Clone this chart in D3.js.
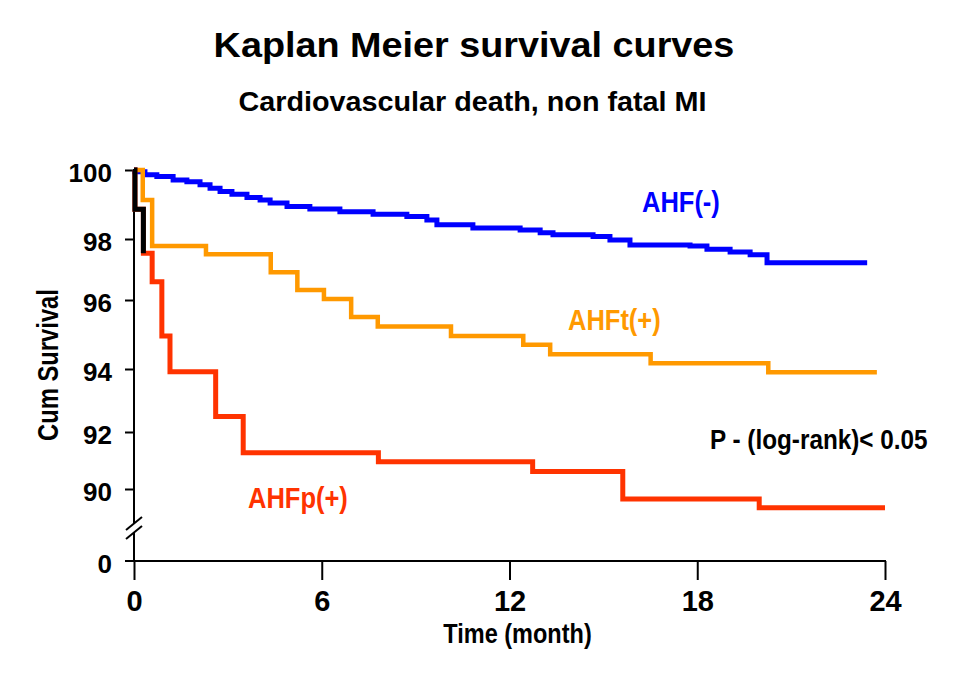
<!DOCTYPE html>
<html>
<head>
<meta charset="utf-8">
<script src="https://cdn.jsdelivr.net/npm/d3@7/dist/d3.min.js"></script>
<style>
  html, body { margin: 0; padding: 0; background: #fff; }
  svg { display: block; font-family: "Liberation Sans", Arial, sans-serif; font-weight: bold; }
</style>
</head>
<body>
<div id="chart"></div>
<script>
const xTicks = [0, 6, 12, 18, 24];
const yTicks = [90, 92, 94, 96, 98, 100];

// AHF(-)
const ahfNegTime = [0, 0.03, 0.35, 0.73, 1.25, 1.69, 2.11, 2.43, 2.75, 3.13, 3.61, 4.03, 4.35, 4.89,
  5.62, 6.58, 7.64, 8.72, 9.36, 9.68, 10.83, 12.34, 12.98, 13.39, 14.67, 15.21, 15.85, 17.77,
  18.31, 19.05, 19.69, 20.23, 23.43];
const ahfNegSurv = [100, 99.95, 99.86, 99.81, 99.71, 99.66, 99.57, 99.47, 99.38, 99.3, 99.2, 99.13, 99.04, 98.94,
  98.87, 98.79, 98.72, 98.65, 98.55, 98.41, 98.32, 98.26, 98.18, 98.12, 98.07, 97.97, 97.8, 97.77,
  97.66, 97.57, 97.48, 97.22, 97.22];

// AHFt(+)
const ahftTime = [0, 0.28, 0.58, 2.3, 4.37, 5.22, 6.07, 6.94, 7.79, 10.13, 12.44, 13.3, 16.51, 20.27, 23.74];
const ahftSurv = [100, 99.13, 97.77, 97.5, 96.91, 96.33, 96.03, 95.51, 95.23, 94.96, 94.7, 94.43, 94.17, 93.9, 93.9];

// AHFp(+)
const ahfpTime = [0, 0.03, 0.3, 0.58, 0.89, 1.15, 2.61, 3.49, 7.81, 12.74, 15.62, 19.98, 24];
const ahfpSurv = [100, 98.86, 97.53, 96.6, 94.96, 93.91, 92.49, 91.27, 90.96, 90.61, 89.65, 89.34, 89.34];
const earlyUntil = 0.3; // first part of AHFp(+) is drawn black in the source

const W = 960;
const H = 687;
const yZero = 561;

const svg = d3.select('#chart').append('svg')
  .attr('width', W)
  .attr('height', H)
  .attr('viewBox', [0, 0, W, H]);

svg.append('rect').attr('width', W).attr('height', H).attr('fill', '#fff');

const x = d3.scaleLinear().domain([0, 24]).range([134, 885]);
// the tick spacing in the source figure is not quite even, so follow it piecewise
const y = d3.scaleLinear().domain(yTicks).range([489, 432, 369, 300, 239, 170]);

function toPoints(ts, ss) {
  return ts.map((t, i) => ({ t, s: ss[i] }));
}

const line = d3.line()
  .x((d) => x(d.t))
  .y((d) => y(d.s))
  .curve(d3.curveStepAfter);

// titles
svg.append('text')
  .attr('transform', 'translate(474,57) scale(1.08,1)')
  .attr('text-anchor', 'middle')
  .attr('font-size', 35)
  .text('Kaplan Meier survival curves');

svg.append('text')
  .attr('transform', 'translate(472.5,111) scale(1.065,1)')
  .attr('text-anchor', 'middle')
  .attr('font-size', 27)
  .text('Cardiovascular death, non fatal MI');

// x axis
const gx = svg.append('g')
  .attr('transform', `translate(0,${yZero})`)
  .call(d3.axisBottom(x).tickValues(xTicks).tickSize(19).tickPadding(10));
gx.select('.domain').remove();
gx.attr('font-family', null).attr('font-size', 29);
gx.selectAll('line').attr('stroke', '#000').attr('stroke-width', 2);
gx.selectAll('text').attr('fill', '#000');

svg.append('line')
  .attr('x1', 134).attr('x2', 886)
  .attr('y1', yZero).attr('y2', yZero)
  .attr('stroke', '#000').attr('stroke-width', 2);

// y axis
const gy = svg.append('g')
  .attr('transform', 'translate(134,0)')
  .call(d3.axisLeft(y).tickValues(yTicks).tickSize(9).tickPadding(13));
gy.select('.domain').remove();
gy.attr('font-family', null).attr('font-size', 26);
gy.selectAll('line').attr('stroke', '#000').attr('stroke-width', 2);
gy.selectAll('text').attr('fill', '#000').attr('dy', '0.46em');

const gz = svg.append('g').attr('transform', `translate(134,${yZero})`);
gz.append('line').attr('x1', -9).attr('x2', 0).attr('stroke', '#000').attr('stroke-width', 2);
gz.append('text')
  .attr('x', -22).attr('dy', '0.46em')
  .attr('text-anchor', 'end')
  .attr('font-size', 26)
  .text('0');

// y axis line with break
const axisPath = svg.append('g').attr('stroke', '#000').attr('stroke-width', 2).attr('fill', 'none');
axisPath.append('line').attr('x1', 134).attr('x2', 134).attr('y1', 169).attr('y2', 524);
axisPath.append('line').attr('x1', 134).attr('x2', 134).attr('y1', 533).attr('y2', yZero);
axisPath.append('line').attr('x1', 126).attr('x2', 142).attr('y1', 530).attr('y2', 517);
axisPath.append('line').attr('x1', 126).attr('x2', 142).attr('y1', 539).attr('y2', 526);

// axis titles
svg.append('text')
  .attr('transform', 'translate(58,365) rotate(-90) scale(0.82,1)')
  .attr('text-anchor', 'middle')
  .attr('font-size', 29)
  .text('Cum Survival');

svg.append('text')
  .attr('transform', 'translate(517.5,643) scale(0.84,1)')
  .attr('text-anchor', 'middle')
  .attr('font-size', 28)
  .text('Time (month)');

// curves
const curves = [
  { pts: toPoints(ahfNegTime, ahfNegSurv), color: '#0000ff', width: 5 },
  { pts: toPoints(ahftTime, ahftSurv), color: '#ff9900', width: 4.5 },
  { pts: toPoints(ahfpTime, ahfpSurv), color: '#ff3300', width: 5 },
];
curves.push({
  pts: curves[2].pts.filter((d) => d.t <= earlyUntil),
  color: '#000',
  width: 5,
});

svg.append('g')
  .selectAll('path')
  .data(curves)
  .join('path')
  .attr('d', (d) => line(d.pts))
  .attr('fill', 'none')
  .attr('stroke', (d) => d.color)
  .attr('stroke-width', (d) => d.width);

// curve labels
const labels = [
  { text: 'AHF(-)', x: 642, y: 212, color: '#0000ff' },
  { text: 'AHFt(+)', x: 568, y: 330, color: '#ff9900' },
  { text: 'AHFp(+)', x: 248, y: 508, color: '#ff3300' },
];
svg.append('g')
  .selectAll('text')
  .data(labels)
  .join('text')
  .attr('transform', (d) => `translate(${d.x},${d.y}) scale(0.85,1)`)
  .attr('font-size', 30)
  .attr('fill', (d) => d.color)
  .text((d) => d.text);

svg.append('text')
  .attr('transform', 'translate(710,449) scale(0.9,1)')
  .attr('font-size', 27)
  .text('P - (log-rank)< 0.05');
</script>
</body>
</html>
